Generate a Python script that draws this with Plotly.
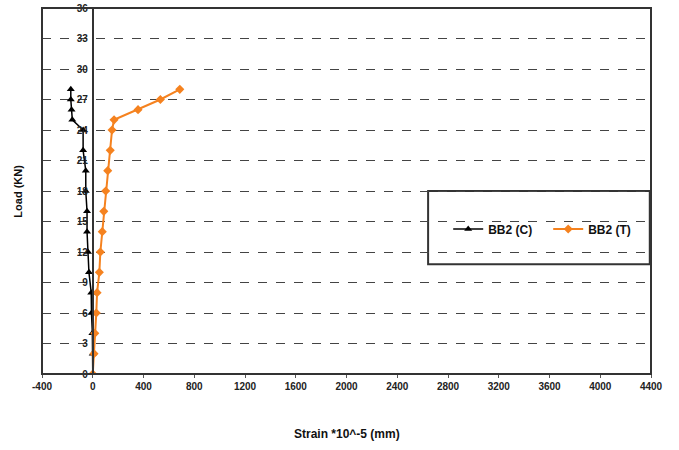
import plotly.graph_objects as go

# Load steps (kN) and measured strains (x10^-5) for beam BB2
load_c = [0, 2, 4, 6, 8, 10, 12, 14, 16, 18, 20, 22, 24, 25, 26, 27, 28]
strain_c = [0, 0, -3, -10, -12, -30, -37, -45, -45, -55, -55, -76, -76, -161, -167, -173, -173]

load_t = [0, 2, 4, 6, 8, 10, 12, 14, 16, 18, 20, 22, 24, 25, 26, 27, 28]
strain_t = [0, 10, 16, 28, 34, 52, 60, 75, 87, 102, 118, 138, 152, 168, 357, 533, 686]

x_ticks = list(range(-400, 4401, 400))
y_ticks = list(range(0, 37, 3))

FONT = "Liberation Sans Narrow, Arial Narrow, Liberation Sans, Arial"

fig = go.Figure()
fig.add_trace(go.Scatter(
    x=strain_c, y=load_c, name="BB2 (C)", mode="lines+markers",
    line=dict(color="black", width=1.5),
    marker=dict(symbol="triangle-up", size=7, color="black"),
))
fig.add_trace(go.Scatter(
    x=strain_t, y=load_t, name="BB2 (T)", mode="lines+markers",
    line=dict(color="#f5821f", width=2),
    marker=dict(symbol="diamond", size=7, color="#f5821f"),
))

x_min, x_max = -400, 4400
zero_pos = (0 - x_min) / (x_max - x_min)

tick_font = dict(family=FONT, size=10, color="#222", weight="bold")

fig.update_layout(
    width=679, height=450,
    margin=dict(l=42, r=28, t=8, b=76, autoexpand=False),
    paper_bgcolor="white", plot_bgcolor="white",
    font=dict(family=FONT, size=10, color="#222"),
    xaxis=dict(
        range=[x_min, x_max], tickvals=x_ticks, ticktext=[str(v) for v in x_ticks],
        showgrid=False, zeroline=False, showline=False,
        ticks="outside", ticklen=3, tickcolor="#555",
        tickfont=tick_font,
    ),
    yaxis=dict(
        range=[0, 36], tickvals=y_ticks, ticktext=[str(v) for v in y_ticks],
        anchor="free", position=zero_pos,
        showline=True, linecolor="#333", linewidth=2,
        showgrid=True, gridcolor="#444", gridwidth=1, griddash="dash",
        zeroline=False, ticks="", ticklabelstandoff=2,
        tickfont=tick_font,
    ),
    showlegend=True,
    legend=dict(
        orientation="h", x=0.667, y=0.396, xanchor="left", yanchor="middle",
        bgcolor="rgba(0,0,0,0)", borderwidth=0,
        font=dict(family=FONT, size=12, color="#111", weight="bold"),
        itemwidth=30, entrywidth=55,
    ),
    shapes=[
        # plot frame
        dict(type="rect", xref="paper", yref="paper", x0=0, x1=1, y0=0, y1=1,
             line=dict(color="#333", width=2), layer="above"),
        # legend frame
        dict(type="rect", xref="paper", yref="paper", x0=0.634, x1=0.998, y0=0.30, y1=0.50,
             line=dict(color="#333", width=2), fillcolor="white", layer="below"),
    ],
    annotations=[
        dict(text="<b>Strain *10^-5 (mm)</b>", xref="paper", yref="paper",
             x=0.5, y=-0.165, xanchor="center", yanchor="middle", showarrow=False,
             font=dict(family=FONT, size=12, color="#111")),
        dict(text="<b>Load (KN)</b>", xref="paper", yref="paper",
             x=-0.04, y=0.5, xanchor="center", yanchor="middle", showarrow=False,
             textangle=-90, font=dict(family=FONT, size=11, color="#111")),
    ],
)

fig.write_html("out.html")
